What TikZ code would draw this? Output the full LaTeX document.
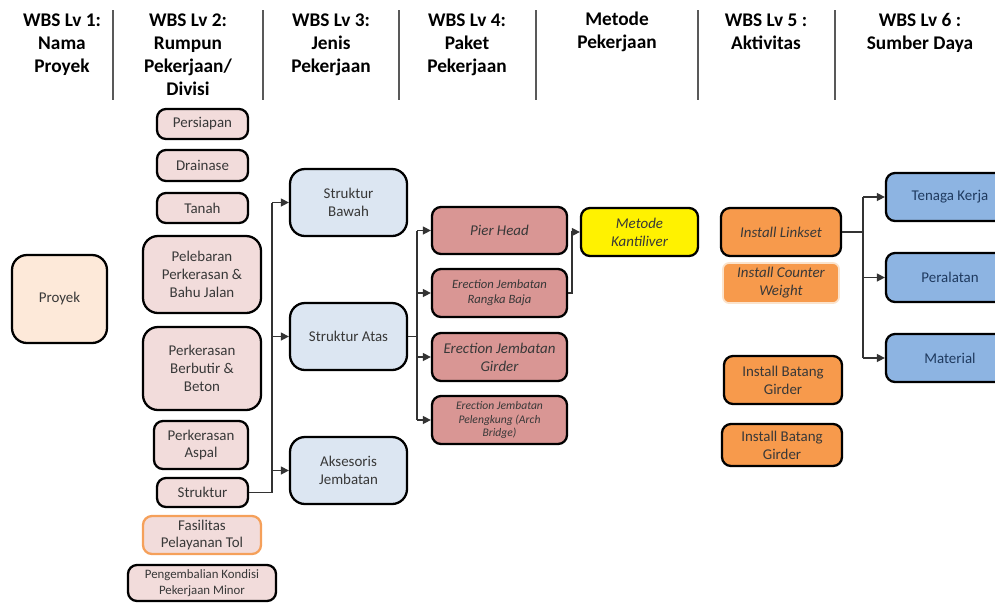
\documentclass[tikz,border=0pt]{standalone}
\usepackage{fontspec}
\setmainfont{Carlito}
\usetikzlibrary{arrows.meta}

\definecolor{peach}{HTML}{FDE9D9}
\definecolor{pinkbox}{HTML}{F2DCDB}
\definecolor{lightblue}{HTML}{DCE6F2}
\definecolor{rosebox}{HTML}{D99694}
\definecolor{orangebox}{HTML}{F79A4C}
\definecolor{bluebox}{HTML}{8DB4E2}
\definecolor{orangeline}{HTML}{F5A05A}
\definecolor{paleline}{HTML}{FBE3CC}
\definecolor{darkblue}{HTML}{1F3A5F}

\tikzset{
  wh/.style 2 args = {minimum width=#1*0.02cm, minimum height=#2*0.02cm},
  head/.style = {anchor=north, align=center, inner sep=0pt,
    font=\fontsize{11}{13.1}\selectfont\bfseries},
  divider/.style = {line width=1pt, black!65},
  box/.style = {draw, line width=1.3pt, rounded corners=0.18cm, align=center,
    inner sep=1pt, text=black!78, font=\fontsize{8.5}{10.2}\selectfont},
  lvtwo/.style = {box, fill=pinkbox},
  lvthree/.style = {box, fill=lightblue},
  lvfour/.style = {box, fill=rosebox, font=\fontsize{8.5}{10.2}\selectfont\itshape},
  lvfive/.style = {box, fill=orangebox},
  lvsix/.style = {box, fill=bluebox, text=darkblue},
  conn/.style = {line width=0.8pt, black!80},
  arr/.style = {conn, -{Triangle[length=4.5pt, width=4.5pt]}}
}

\begin{document}
\begin{tikzpicture}[x=0.02cm, y=-0.02cm]
  \clip (0,0) rectangle (995,603);

  % header
  \node[head] (h1) at (62,13) {WBS Lv 1:\\Nama\\Proyek};
  \node[head] (h2) at (188,13) {WBS Lv 2:\\Rumpun\\Pekerjaan/\\Divisi};
  \node[head] (h3) at (331,13) {WBS Lv 3:\\Jenis\\Pekerjaan};
  \node[head] (h4) at (467,13) {WBS Lv 4:\\Paket\\Pekerjaan};
  \node[head] (h5) at (617,12) {Metode\\Pekerjaan};
  \node[head] (h6) at (766,13) {WBS Lv 5 :\\Aktivitas};
  \node[head] (h7) at (920,13) {WBS Lv 6 :\\Sumber Daya};
  \foreach \x in {113,263,399,536,698,835}
    \draw[divider] (\x,10) -- (\x,100);

  % lv 1
  \node[box, fill=peach, wh={95}{88}, rounded corners=0.3cm] (proyek) at (59.5,299) {Proyek};

  % lv 2
  \node[lvtwo, wh={91}{30}] (persiapan) at (202.5,124) {Persiapan};
  \node[lvtwo, wh={91}{31}] (drainase) at (202.5,165.5) {Drainase};
  \node[lvtwo, wh={91}{30}] (tanah) at (202.5,208) {Tanah};
  \node[lvtwo, wh={118}{77}, rounded corners=0.3cm] (pelebaran) at (202,274.5) {Pelebaran\\Perkerasan \&\\Bahu Jalan};
  \node[lvtwo, wh={118}{83}, rounded corners=0.3cm] (berbutir) at (202,368.5) {Perkerasan\\Berbutir \&\\Beton};
  \node[lvtwo, wh={94}{48}] (aspal) at (201,445) {Perkerasan\\Aspal};
  \node[lvtwo, wh={91}{29}] (struktur) at (202.5,492.5) {Struktur};
  \node[lvtwo, wh={118}{38}, draw=orangeline] (fasilitas) at (202,535) {Fasilitas\\Pelayanan Tol};
  \node[lvtwo, wh={148}{36}, font=\fontsize{7.3}{9}\selectfont] (pengembalian) at (202,583) {Pengembalian Kondisi\\Pekerjaan Minor};

  % lv 3
  \node[lvthree, wh={117}{67}, rounded corners=0.3cm] (bawah) at (348.5,202.5) {Struktur\\Bawah};
  \node[lvthree, wh={117}{67}, rounded corners=0.3cm] (atas) at (348.5,336.5) {Struktur Atas};
  \node[lvthree, wh={117}{67}, rounded corners=0.3cm] (aksesoris) at (348.5,470.5) {Aksesoris\\Jembatan};

  % lv 4
  \node[lvfour, wh={135}{47}] (pier) at (499.5,230.5) {Pier Head};
  \node[lvfour, wh={135}{48}, font=\fontsize{7.2}{8.4}\selectfont\itshape] (rangka) at (499.5,293) {Erection Jembatan\\Rangka Baja};
  \node[lvfour, wh={135}{48}] (girder) at (499.5,357) {Erection Jembatan\\Girder};
  \node[lvfour, wh={135}{48}, font=\fontsize{6.6}{7.6}\selectfont\itshape] (pelengkung) at (499.5,420) {Erection Jembatan\\Pelengkung (Arch\\Bridge)};

  % metode
  \node[box, fill=yellow, wh={117}{48}, font=\fontsize{8.5}{10.2}\selectfont\itshape] (kantiliver) at (639.5,232) {Metode\\Kantiliver};

  % lv 5
  \node[lvfive, wh={120}{48}, font=\fontsize{8.5}{10.2}\selectfont\itshape] (linkset) at (781,232) {Install Linkset};
  \node[lvfive, wh={116}{40}, draw=paleline, line width=1pt, rounded corners=0.12cm, font=\fontsize{8.5}{10.2}\selectfont\itshape] (counter) at (781,283) {Install Counter\\Weight};
  \node[lvfive, wh={118}{48}] (batang1) at (783,380) {Install Batang\\Girder};
  \node[lvfive, wh={120}{42}] (batang2) at (782,445) {Install Batang\\Girder};

  % lv 6
  \node[lvsix, wh={128}{48}] (tenaga) at (950,197) {Tenaga Kerja};
  \node[lvsix, wh={128}{49}] (peralatan) at (950,277.5) {Peralatan};
  \node[lvsix, wh={128}{48}] (material) at (950,358) {Material};

  % connectors
  \coordinate (b3) at (272,0);
  \draw[conn] (struktur.east) -| (b3 |- bawah.west);
  \draw[arr] (b3 |- bawah.west) -- (bawah.west);
  \draw[arr] (b3 |- atas.west) -- (atas.west);
  \draw[arr] (b3 |- aksesoris.west) -- (aksesoris.west);

  \coordinate (b4) at (417,0);
  \draw[conn] (atas.east) -- (b4 |- atas.east);
  \draw[conn] (b4 |- pier.west) -- (b4 |- pelengkung.west);
  \foreach \n in {pier,rangka,girder,pelengkung}
    \draw[arr] (b4 |- \n.west) -- (\n.west);

  \draw[arr] (rangka.east) -- ++(4,0) |- (kantiliver.west);

  \coordinate (b6) at (863,0);
  \draw[conn] (linkset.east) -- (b6 |- linkset.east);
  \draw[conn] (b6 |- tenaga.west) -- (b6 |- material.west);
  \foreach \n in {tenaga,peralatan,material}
    \draw[arr] (b6 |- \n.west) -- (\n.west);
\end{tikzpicture}
\end{document}
